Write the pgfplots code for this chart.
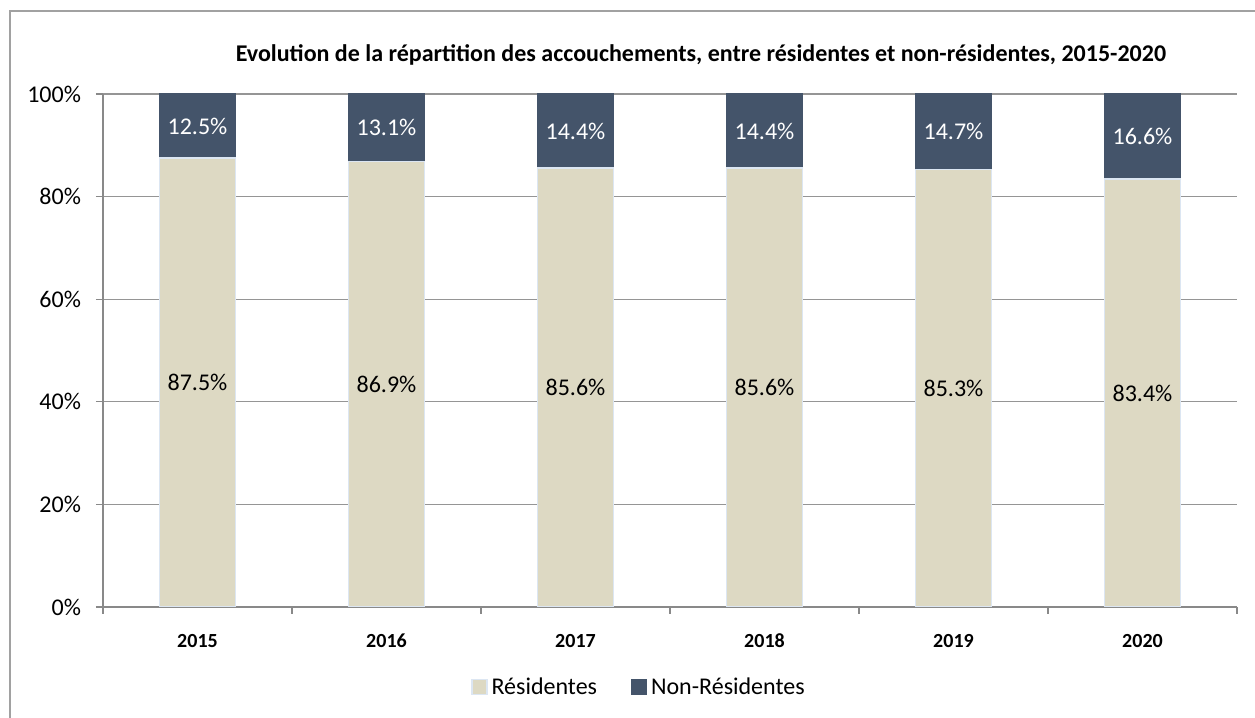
\documentclass[border=0pt]{standalone}
\usepackage{pgfplots}
\pgfplotsset{compat=1.18}
\usepackage{fontspec}
\setmainfont{Carlito}
\definecolor{res}{HTML}{DDD9C3}
\definecolor{nonres}{HTML}{44546A}
\definecolor{resedge}{HTML}{DCE6F2}
\definecolor{axgray}{HTML}{898989}
\begin{document}
\begin{tikzpicture}[x=0.5pt,y=0.5pt]
\path[use as bounding box] (0,0) rectangle (1255,718);
\draw[color=axgray!80, line width=1pt] (10,-20) -- (10,707) -- (1280,707);
\node[font=\bfseries\fontsize{12}{14}\selectfont, anchor=base] at (701,656) {Evolution de la répartition des accouchements, entre résidentes et non-résidentes, 2015-2020};
\begin{axis}[
  at={(51.5pt,55.5pt)}, anchor=south west,
  scale only axis, width=567pt, height=256.5pt,
  ybar stacked, bar width=38pt,
  xmin=-0.5, xmax=5.5, ymin=0, ymax=100,
  xtick={0,1,2,3,4,5},
  xticklabels={2015,2016,2017,2018,2019,2020},
  minor xtick={-0.5,0.5,1.5,2.5,3.5,4.5,5.5},
  major x tick style={draw=none},
  ytick={0,20,40,60,80,100},
  yticklabel={\pgfmathprintnumber{\tick}\%},
  /pgf/number format/assume math mode=true,
  tick align=outside, major tick length=3.5pt, minor tick length=3.5pt,
  axis x line*=bottom, axis y line*=left,
  axis line style={color=axgray, line width=0.6pt},
  every tick/.style={color=axgray, line width=0.6pt},
  ymajorgrids, grid style={color=axgray!90, line width=0.6pt},
  tick label style={font=\fontsize{12}{14}\selectfont, color=black},
  x tick label style={font=\bfseries\fontsize{10}{12}\selectfont, yshift=-6.5pt},
  y tick label style={xshift=-4pt},
  visualization depends on={rawy \as \rawy},
  nodes near coords={\pgfmathprintnumber[fixed,fixed zerofill,precision=1]{\rawy}\%},
  every node near coord/.append style={font=\fontsize{12}{14}\selectfont, anchor=center},
  legend columns=2,
  legend style={draw=none, at={(0.4735,-0.158)}, anchor=center, font=\fontsize{12}{14}\selectfont, /tikz/every even column/.append style={column sep=15pt}},
  legend image code/.code={\fill[#1] (0pt,-3.2pt) rectangle (7.5pt,4.3pt);},
]
\addplot+[fill=res, draw=resedge, line width=0.7pt, every node near coord/.append style={text=black}] coordinates {(0,87.5) (1,86.9) (2,85.6) (3,85.6) (4,85.3) (5,83.4)};
\addplot+[fill=nonres, draw=nonres, line width=0.5pt, every node near coord/.append style={text=white}] coordinates {(0,12.5) (1,13.1) (2,14.4) (3,14.4) (4,14.7) (5,16.6)};
\legend{Résidentes,Non-Résidentes}
\end{axis}
\end{tikzpicture}
\end{document}
